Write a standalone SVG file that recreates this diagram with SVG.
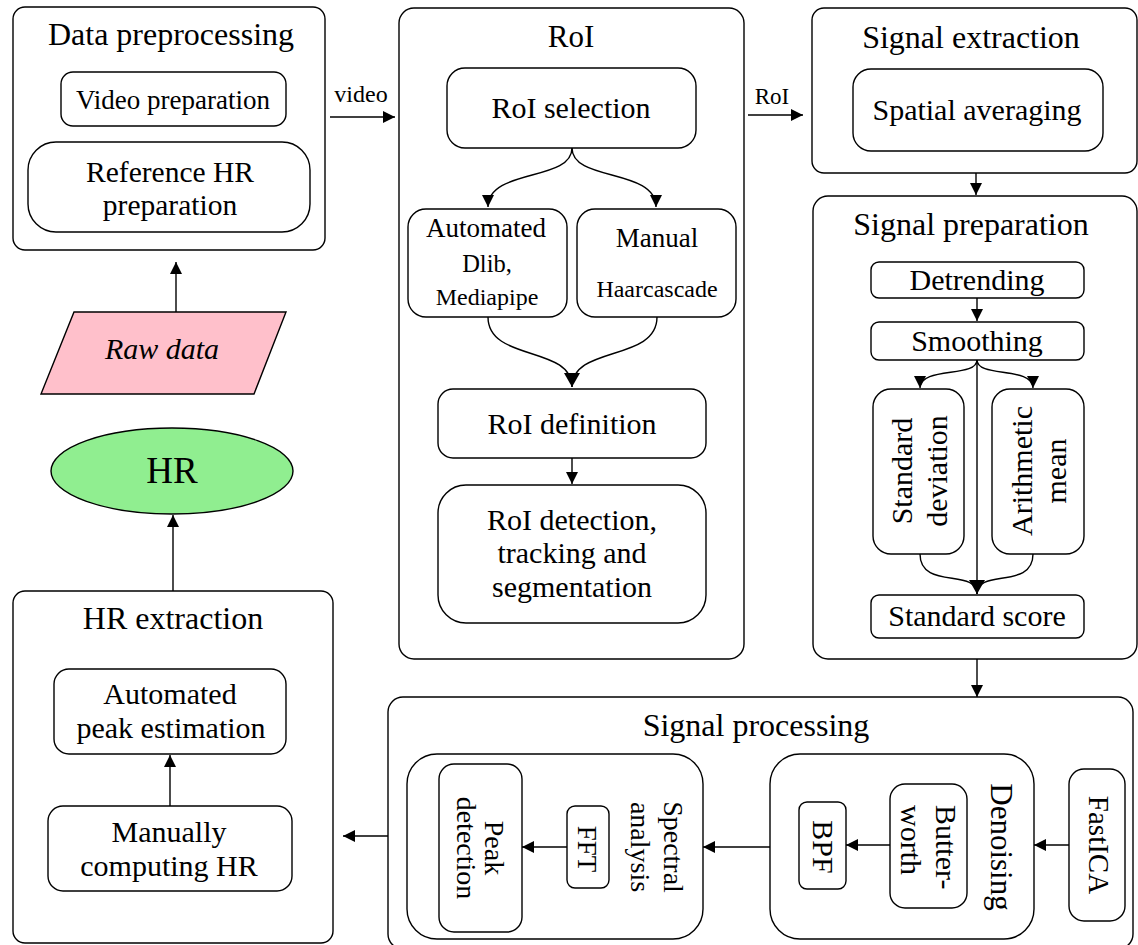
<svg xmlns="http://www.w3.org/2000/svg" width="1138" height="945" viewBox="0 0 1138 945">
  <defs>
    <style>
      .box { fill: #ffffff; stroke: #000000; stroke-width: 1.4; }
      .wire { fill: none; stroke: #000000; stroke-width: 1.4; }
      text { font-family: "Liberation Serif", "Times New Roman", serif; fill: #000000; text-anchor: middle; }
      .t32 { font-size: 32px; }
      .t30 { font-size: 30px; }
      .t27 { font-size: 27px; }
      .t24 { font-size: 24px; }
    </style>
    <marker id="ah" viewBox="0 0 12 12" refX="12" refY="6" markerWidth="12" markerHeight="12" markerUnits="userSpaceOnUse" orient="auto">
      <path d="M0,0 L12,6 L0,12 Z" fill="#000000"/>
    </marker>
    <marker id="ahBig" viewBox="0 0 14 16" refX="14" refY="8" markerWidth="14" markerHeight="16" markerUnits="userSpaceOnUse" orient="auto">
      <path d="M0,0 L14,8 L0,16 Z" fill="#000000"/>
    </marker>
  </defs>

  <rect width="1138" height="945" fill="#ffffff"/>

  <!-- Data preprocessing -->
  <g id="data-preprocessing">
    <rect class="box" x="13" y="7" width="312" height="243" rx="12"/>
    <text class="t32" x="171" y="45">Data preprocessing</text>
    <rect class="box" x="61" y="72" width="225" height="54" rx="12"/>
    <text class="t27" x="173" y="109">Video preparation</text>
    <rect class="box" x="28" y="142" width="282" height="90" rx="28"/>
    <text x="170" y="182" style="font-size:29.5px">Reference HR</text>
    <text x="170" y="215" style="font-size:29.5px">preparation</text>
  </g>

  <!-- Raw data input -->
  <g id="raw-data">
    <polygon points="74,312 286,312 254,394 41,394" fill="#ffc0cb" stroke="#000000" stroke-width="1.4"/>
    <text x="162" y="359" style="font-size:30px;font-style:italic">Raw data</text>
  </g>

  <!-- HR output -->
  <g id="hr">
    <ellipse cx="172" cy="471" rx="121" ry="43" fill="#90ee90" stroke="#000000" stroke-width="1.4"/>
    <text x="172" y="483" style="font-size:37px">HR</text>
  </g>

  <!-- HR extraction -->
  <g id="hr-extraction">
    <rect class="box" x="13" y="591" width="320" height="352" rx="12"/>
    <text class="t32" x="173" y="629">HR extraction</text>
    <rect class="box" x="54" y="669" width="232" height="85" rx="15"/>
    <text class="t30" x="170" y="704">Automated</text>
    <text class="t30" x="171" y="738">peak estimation</text>
    <rect class="box" x="48" y="806" width="244" height="85" rx="15"/>
    <text class="t30" x="169" y="842">Manually</text>
    <text class="t30" x="169" y="876">computing HR</text>
  </g>

  <!-- RoI -->
  <g id="roi">
    <rect class="box" x="399" y="8" width="345" height="651" rx="15"/>
    <text x="571" y="47" style="font-size:31px">RoI</text>
    <rect class="box" x="447" y="68" width="249" height="80" rx="18"/>
    <text class="t30" x="571" y="118">RoI selection</text>
    <rect class="box" x="408" y="209" width="159" height="108" rx="18"/>
    <text class="t27" x="486" y="237">Automated</text>
    <text x="487" y="272" style="font-size:24.5px">Dlib,</text>
    <text class="t24" x="487" y="305">Mediapipe</text>
    <rect class="box" x="577" y="209" width="159" height="108" rx="18"/>
    <text class="t27" x="657" y="247">Manual</text>
    <text class="t24" x="657" y="297">Haarcascade</text>
    <rect class="box" x="438" y="389" width="268" height="69" rx="15"/>
    <text class="t30" x="572" y="434">RoI definition</text>
    <rect class="box" x="438" y="485" width="268" height="138" rx="28"/>
    <text class="t30" x="572" y="530">RoI detection,</text>
    <text class="t30" x="572" y="563">tracking and</text>
    <text class="t30" x="572" y="597">segmentation</text>
  </g>

  <!-- Signal extraction -->
  <g id="signal-extraction">
    <rect class="box" x="812" y="8" width="325" height="165" rx="12"/>
    <text class="t32" x="971" y="48">Signal extraction</text>
    <rect class="box" x="853" y="69" width="250" height="82" rx="18"/>
    <text class="t30" x="977" y="120">Spatial averaging</text>
  </g>

  <!-- Signal preparation -->
  <g id="signal-preparation">
    <rect class="box" x="813" y="196" width="324" height="463" rx="15"/>
    <text class="t32" x="971" y="235">Signal preparation</text>
    <rect class="box" x="871" y="262" width="213" height="36" rx="8"/>
    <text class="t30" x="977" y="290">Detrending</text>
    <rect class="box" x="871" y="322" width="213" height="38" rx="8"/>
    <text class="t30" x="977" y="351">Smoothing</text>
    <rect class="box" x="873" y="389" width="91" height="165" rx="18"/>
    <text class="t30" transform="translate(912,471) rotate(-90)">Standard</text>
    <text class="t30" transform="translate(947,471) rotate(-90)">deviation</text>
    <rect class="box" x="992" y="389" width="92" height="165" rx="18"/>
    <text class="t30" transform="translate(1032,471) rotate(-90)">Arithmetic</text>
    <text class="t30" transform="translate(1066,471) rotate(-90)">mean</text>
    <rect class="box" x="871" y="595" width="213" height="43" rx="8"/>
    <text class="t30" x="977" y="626">Standard score</text>
  </g>

  <!-- Signal processing -->
  <g id="signal-processing">
    <rect class="box" x="388" y="697" width="745" height="252" rx="15"/>
    <text class="t32" x="756" y="736">Signal processing</text>
    <g id="spectral-analysis">
      <rect class="box" x="407" y="754" width="296" height="185" rx="30"/>
      <text style="font-size:28px" transform="translate(664,847) rotate(90)">Spectral</text>
      <text style="font-size:28px" transform="translate(631,847) rotate(90)">analysis</text>
      <rect class="box" x="439" y="764" width="83" height="168" rx="15"/>
      <text style="font-size:28px" transform="translate(485,848) rotate(90)">Peak</text>
      <text style="font-size:28px" transform="translate(457,848) rotate(90)">detection</text>
      <rect class="box" x="567" y="806" width="42" height="82" rx="8"/>
      <text class="t27" transform="translate(578,849) rotate(90)">FFT</text>
    </g>
    <g id="denoising">
      <rect class="box" x="770" y="754" width="264" height="185" rx="30"/>
      <text style="font-size:31px" transform="translate(991,847) rotate(90)">Denoising</text>
      <rect class="box" x="799" y="802" width="47" height="87" rx="8"/>
      <text class="t30" transform="translate(813,847) rotate(90)">BPF</text>
      <rect class="box" x="890" y="784" width="77" height="124" rx="15"/>
      <text class="t30" style="text-anchor:start" transform="translate(936,805) rotate(90)">Butter-</text>
      <text class="t30" style="text-anchor:start" transform="translate(901,805) rotate(90)">worth</text>
    </g>
    <g id="fastica">
      <rect class="box" x="1069" y="769" width="56" height="152" rx="15"/>
      <text style="font-size:29px" transform="translate(1089,845) rotate(90)">FastICA</text>
    </g>
  </g>

  <!-- Connectors -->
  <g id="connectors">
    <line class="wire" x1="176" y1="312" x2="176" y2="262" marker-end="url(#ah)"/>
    <line class="wire" x1="330" y1="117" x2="395" y2="117" marker-end="url(#ah)"/>
    <text class="t24" x="361" y="102">video</text>
    <line class="wire" x1="748" y1="115" x2="803" y2="115" marker-end="url(#ah)"/>
    <text x="772" y="104" style="font-size:23px">RoI</text>
    <path class="wire" d="M572,148 C572,182 488,168 488,207" marker-end="url(#ah)"/>
    <path class="wire" d="M572,148 C572,182 656,168 656,207" marker-end="url(#ah)"/>
    <path class="wire" d="M488,317 C488,362 572,345 572,387" marker-end="url(#ahBig)"/>
    <path class="wire" d="M657,317 C657,362 572,345 572,387"/>
    <line class="wire" x1="572" y1="458" x2="572" y2="484" marker-end="url(#ah)"/>
    <line class="wire" x1="976" y1="173" x2="976" y2="195" marker-end="url(#ah)"/>
    <line class="wire" x1="977" y1="298" x2="977" y2="321" marker-end="url(#ah)"/>
    <path class="wire" d="M977,360 C977,378 920,366 920,388" marker-end="url(#ah)"/>
    <path class="wire" d="M977,360 C977,378 1033,366 1033,388" marker-end="url(#ah)"/>
    <line class="wire" x1="977" y1="360" x2="977" y2="594" marker-end="url(#ahBig)"/>
    <path class="wire" d="M920,554 C920,590 977,568 977,594"/>
    <path class="wire" d="M1033,554 C1033,590 977,568 977,594"/>
    <line class="wire" x1="977" y1="659" x2="977" y2="697" marker-end="url(#ah)"/>
    <line class="wire" x1="1069" y1="845" x2="1034" y2="845" marker-end="url(#ah)"/>
    <line class="wire" x1="890" y1="845" x2="846" y2="845" marker-end="url(#ah)"/>
    <line class="wire" x1="770" y1="847" x2="703" y2="847" marker-end="url(#ah)"/>
    <line class="wire" x1="567" y1="847" x2="522" y2="847" marker-end="url(#ah)"/>
    <line class="wire" x1="388" y1="836" x2="343" y2="836" marker-end="url(#ah)"/>
    <line class="wire" x1="170" y1="806" x2="170" y2="755" marker-end="url(#ah)"/>
    <line class="wire" x1="173" y1="591" x2="173" y2="515" marker-end="url(#ah)"/>
  </g>
</svg>
